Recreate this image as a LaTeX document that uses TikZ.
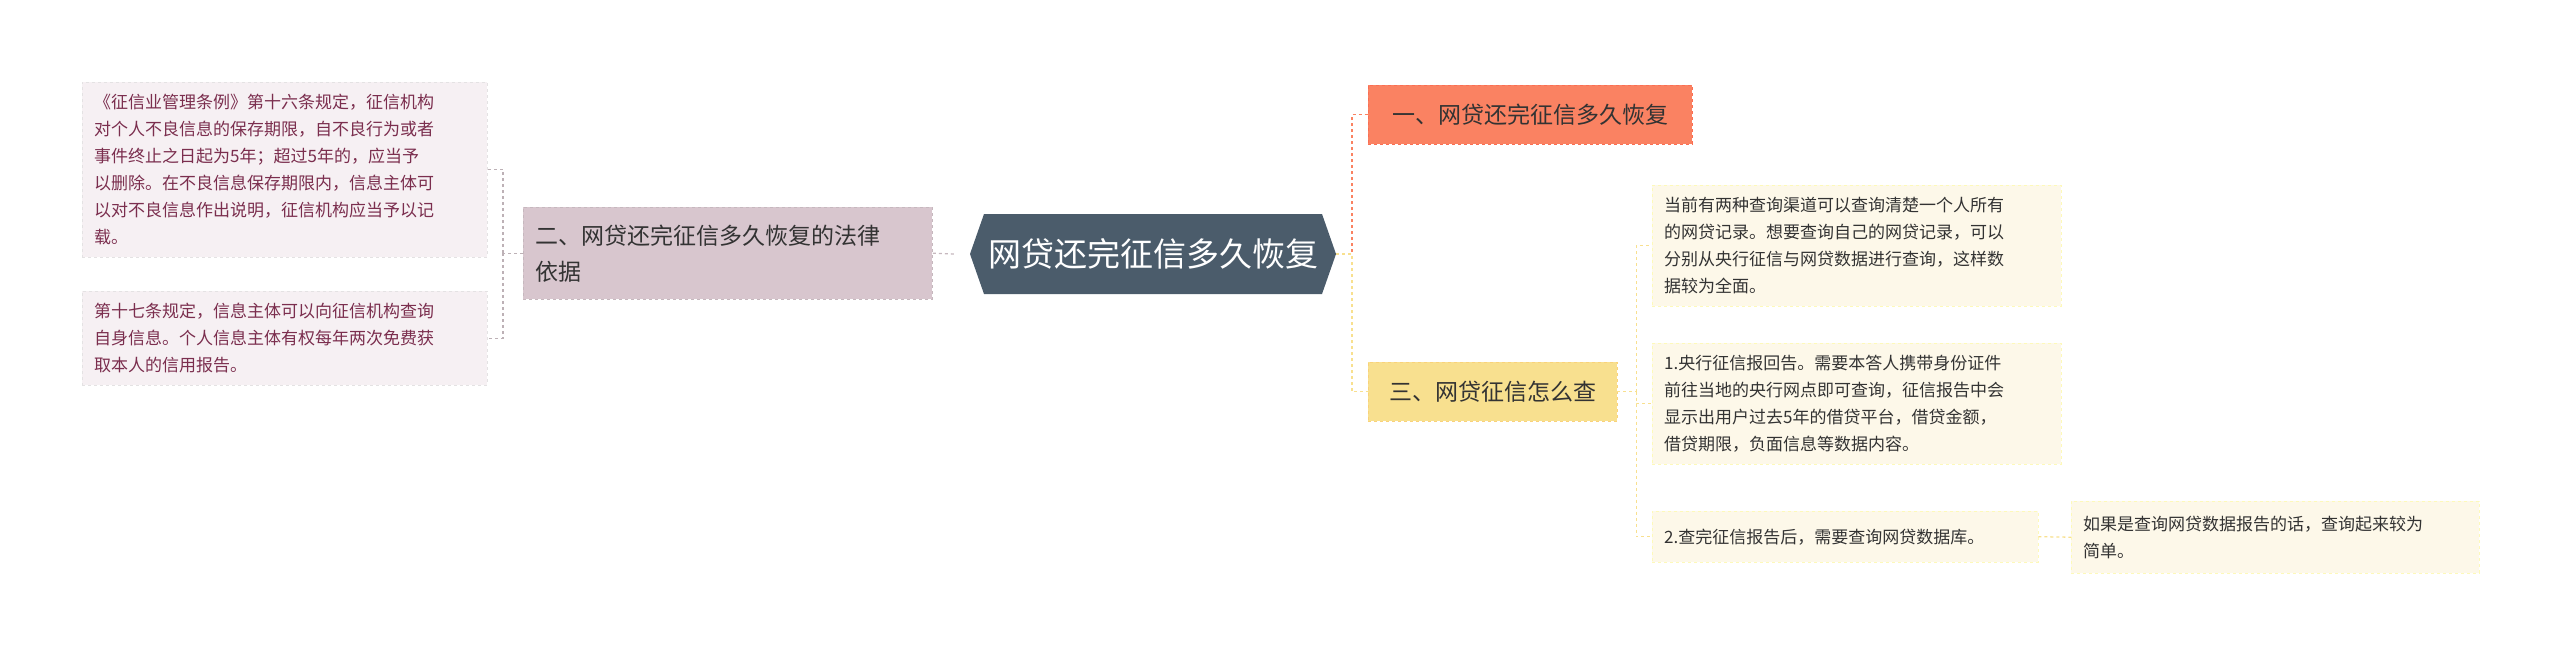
\documentclass[tikz,border=0pt]{standalone}
\usepackage{fontspec}
\setmainfont{Noto Sans CJK SC}
\begin{document}
\begin{tikzpicture}[x=1pt,y=-1pt,
  leafL/.style={fill=leftleaf,draw=leftleaf!70!gray!60,dashed,text=leftText,font=\fontsize{17}{27}\selectfont,align=left,inner sep=12pt,anchor=north west},
  leafR/.style={fill=rightleaf,draw=rightleaf!80!yellow,dashed,text=black!80,font=\fontsize{17}{27}\selectfont,align=left,inner sep=12pt,anchor=north west},
  conn/.style={dashed,line width=1.3pt}]
\definecolor{rootc}{HTML}{4B5C6B}
\definecolor{leftbr}{HTML}{D8C6CE}
\definecolor{leftleaf}{HTML}{F6F0F3}
\definecolor{leftText}{HTML}{7B2E4E}
\definecolor{coral}{HTML}{FA8262}
\definecolor{sand}{HTML}{F8E08F}
\definecolor{rightleaf}{HTML}{FDF8E9}
\useasboundingbox (0,0) rectangle (2560,656);
% root
\fill[rootc] (984,214) -- (1322,214) -- (1336,254) -- (1322,294) -- (984,294) -- (970,254) -- cycle;
\node[text=white,font=\fontsize{33}{38}\selectfont,minimum width=366pt,minimum height=80pt] (root) at (1153,254) {网贷还完征信多久恢复};
% left branch
\node[fill=leftbr,draw=leftbr!80!gray,dashed,font=\fontsize{23}{36}\selectfont,text=black!80,align=left,anchor=north west,text width=385pt,minimum height=92pt,inner sep=12pt] (lb) at (523,207) {二、网贷还完征信多久恢复的法律\\依据};
\node[leafL,text width=381pt,minimum height=168pt] (l1) at (82,82) {《征信业管理条例》第十六条规定，征信机构\\对个人不良信息的保存期限，自不良行为或者\\事件终止之日起为5年；超过5年的，应当予\\以删除。在不良信息保存期限内，信息主体可\\以对不良信息作出说明，征信机构应当予以记\\载。};
\node[leafL,text width=381pt,minimum height=94pt] (l2) at (82,291) {第十七条规定，信息主体可以向征信机构查询\\自身信息。个人信息主体有权每年两次免费获\\取本人的信用报告。};
% right branches
\node[fill=coral,draw=coral!85!red,dashed,font=\fontsize{23}{28}\selectfont,text=black!80,anchor=north west,minimum width=324pt,minimum height=59pt] (r1) at (1368,85) {一、网贷还完征信多久恢复};
\node[fill=sand,draw=sand!85!orange,dashed,font=\fontsize{23}{28}\selectfont,text=black!80,anchor=north west,minimum width=249pt,minimum height=59pt] (r3) at (1368,362) {三、网贷征信怎么查};
\node[leafR,text width=385pt,minimum height=120pt] (a) at (1652,185) {当前有两种查询渠道可以查询清楚一个人所有\\的网贷记录。想要查询自己的网贷记录，可以\\分别从央行征信与网贷数据进行查询，这样数\\据较为全面。};
\node[leafR,text width=385pt,minimum height=121pt] (b) at (1652,343) {1.央行征信报回告。需要本答人携带身份证件\\前往当地的央行网点即可查询，征信报告中会\\显示出用户过去5年的借贷平台，借贷金额，\\借贷期限，负面信息等数据内容。};
\node[leafR,text width=362pt,minimum height=51pt] (c) at (1652,511) {2.查完征信报告后，需要查询网贷数据库。};
\node[leafR,text width=384pt,minimum height=72pt] (d) at (2071,501) {如果是查询网贷数据报告的话，查询起来较为\\简单。};
% connectors
\draw[conn,draw=leftbr!80!gray] (root.west) ++(-16,0) -- (lb.east);
\draw[conn,draw=leftbr!70!gray] (lb.west) -- ++(-20,0) coordinate (lj);
\draw[conn,draw=leftbr!70!gray] (lj) |- (l1.east);
\draw[conn,draw=leftbr!70!gray] (lj) |- (l2.east);
\draw[conn,draw=coral] (1336,254) -- (1352,254) |- (r1.west);
\draw[conn,draw=sand] (1336,254) -- (1352,254) |- (r3.west);
\draw[conn,draw=sand] (r3.east) -- ++(19,0) coordinate (rj);
\draw[conn,draw=sand] (rj) |- (a.west);
\draw[conn,draw=sand] (rj) |- (b.west);
\draw[conn,draw=sand] (rj) |- (c.west);
\draw[conn,draw=sand] (c.east) -- (d.west);
\end{tikzpicture}
\end{document}
